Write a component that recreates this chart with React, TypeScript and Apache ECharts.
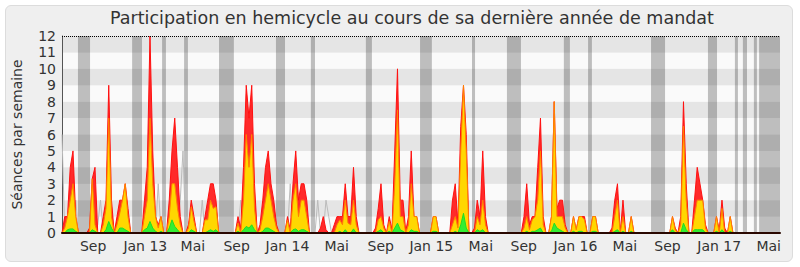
import React, { useEffect, useRef } from "react";
import * as echarts from "echarts";

const TITLE = "Participation en hemicycle au cours de sa dernière année de mandat";
const Y_NAME = "Séances par semaine";

// x axis: week index since the start of the legislature
const TICK_LABELS = ["Sep", "Jan 13", "Mai", "Sep", "Jan 14", "Mai", "Sep", "Jan 15", "Mai", "Sep", "Jan 16", "Mai", "Sep", "Jan 17", "Mai"];
const TICK_WEEKS = [11.3, 30.3, 47.6, 63.5, 82, 99.9, 115.9, 134.3, 152.3, 167.9, 186.7, 204.7, 220.2, 239, 257];
const WEEK_MAX = 261.1;

// parliamentary holidays (week ranges)
const VACATION_START = [5.8, 25.5, 36.4, 44.4, 57.1, 77.8, 90.5, 110.5, 130.2, 149.1, 161.8, 182.5, 191.3, 214.2, 234.9, 244.7, 247.6, 251.6, 253.5];
const VACATION_END = [10.2, 29.1, 37.8, 45.8, 62.5, 81.1, 92.0, 112.7, 134.5, 150.2, 166.9, 184.7, 192.7, 219.3, 238.2, 245.8, 249.1, 252.7, 261.1];

// weekly values
const PRESENCE = [
  0, 1, 1, 4, 5, 1, 0, 0, 0, 0,
  0.3, 3.3, 4, 0, 0, 1, 2, 9, 2, 0,
  1, 2, 2, 3, 1.5, 0, 0, 0, 0, 0,
  2, 4, 12, 5, 1, 0.5, 1, 0, 0, 2,
  5, 7, 4, 1, 0, 0, 0.5, 2, 1, 0,
  0, 0, 1, 2, 3, 3, 2, 0, 0, 0,
  0, 0, 0, 0, 1, 0.3, 4, 9, 7, 9,
  3, 0, 0.5, 2, 4, 5, 3, 2, 0.5, 0,
  0, 0, 1, 0.2, 3, 5, 2, 3, 3, 2,
  0, 0, 0, 0, 0.3, 1, 0.2, 0, 0, 0.5,
  1, 1, 1, 3, 1, 1, 4, 1, 0, 0,
  0, 0, 0, 0, 0.3, 1.5, 3, 0.5, 0, 1,
  0.2, 5, 10, 2, 2, 0.1, 1, 5, 1, 1,
  0, 0, 0, 0, 0, 1, 1, 0, 0, 0,
  0, 0, 2, 3, 0.5, 6.5, 9, 6, 0, 0,
  0.3, 2, 1, 5, 1, 0, 0, 0, 0, 0,
  0, 0, 0, 0, 0, 0, 0, 0, 1, 3,
  0.5, 1, 1, 4, 7, 1, 0, 0, 1, 8,
  1.5, 2, 2, 0.5, 0, 0, 1, 0.2, 1, 1,
  1, 0, 0, 1, 1, 0, 0, 0, 0, 0,
  0.3, 2, 3, 0, 2, 0, 0, 1, 0, 0,
  0, 0, 0, 0, 0, 0, 0, 0, 0, 0,
  0, 0, 1, 0.3, 0, 1, 8, 3, 0, 0,
  2, 4, 3, 2, 0.5, 0, 0, 0, 1, 0.2,
  2, 0.3, 0, 1, 0, 0, 0, 0, 0, 0,
  0, 0, 0, 0, 0, 0, 0, 0, 0, 0, 0, 0,
];

const PARTICIPATION = [
  0, 0.3, 1, 2, 3, 1, 0, 0, 0, 0,
  0, 3.3, 0.5, 0, 0, 0.5, 1.5, 7, 1, 0,
  0.5, 1.2, 2, 3, 1, 0, 0, 0, 0, 0,
  1, 2, 7, 3, 1, 0.3, 1, 0, 0, 1,
  3, 3, 1.5, 0.5, 0, 0, 0.3, 1.6, 0.7, 0,
  0, 0, 0.8, 0.8, 2, 1.5, 1.6, 0, 0, 0,
  0, 0, 0, 0, 0.6, 0, 2, 6, 4, 6,
  1.5, 0, 0.2, 1, 2, 3, 2, 1, 0.3, 0,
  0, 0, 0.8, 0, 2, 3, 1, 2, 2, 1,
  0, 0, 0, 0, 0, 0, 0, 0, 0, 0,
  0.5, 0.8, 0.5, 2, 0.6, 0.5, 2, 0.5, 0, 0,
  0, 0, 0, 0, 0, 0.8, 1, 0.3, 0, 0.7,
  0, 3, 7.5, 1, 1, 0, 0.5, 3, 1, 1,
  0, 0, 0, 0, 0, 1, 1, 0, 0, 0,
  0, 0, 0.5, 1, 0.3, 5, 9, 5, 0, 0,
  0, 1, 0.5, 2, 0.5, 0, 0, 0, 0, 0,
  0, 0, 0, 0, 0, 0, 0, 0, 0.3, 1,
  0.2, 0.8, 1, 2, 5, 0.5, 0, 0, 1, 8,
  1, 1, 1, 0.3, 0, 0, 1, 0.2, 1, 1,
  0.8, 0, 0, 1, 1, 0, 0, 0, 0, 0,
  0, 1, 2, 0, 1, 0, 0, 1, 0, 0,
  0, 0, 0, 0, 0, 0, 0, 0, 0, 0,
  0, 0, 1, 0.2, 0, 0.5, 6.5, 2, 0, 0,
  1, 2, 2, 2, 0.3, 0, 0, 0, 1, 0,
  1.5, 0, 0, 1, 0, 0, 0, 0, 0, 0,
  0, 0, 0, 0, 0, 0, 0, 0, 0, 0, 0, 0,
];

const INTERVENTIONS = [
  0, 0, 0.2, 0.25, 0.25, 0.1, 0, 0, 0, 0,
  0, 0.2, 0.1, 0, 0, 0, 0.2, 0.7, 0.3, 0,
  0, 0.3, 0.3, 0.2, 0.1, 0, 0, 0, 0, 0,
  0.2, 0.3, 0.7, 0.3, 0.1, 0, 0.1, 0, 0, 0.3,
  0.8, 0.4, 0.2, 0, 0, 0, 0, 0.2, 0.1, 0,
  0, 0, 0, 0.1, 0.2, 0.1, 0.2, 0, 0, 0,
  0, 0, 0, 0, 0.1, 0, 0.2, 0.4, 0.3, 0.5,
  0.2, 0, 0, 0.1, 0.3, 0.3, 0.2, 0.1, 0, 0,
  0, 0, 0, 0, 0.2, 0.25, 0.1, 0.2, 0.2, 0.1,
  0, 0, 0, 0, 0, 0, 0, 0, 0, 0,
  0, 0.1, 0, 0.2, 0, 0, 0.25, 0, 0, 0,
  0, 0, 0, 0, 0, 0.1, 0.2, 0, 0, 0.1,
  0, 0.3, 0.6, 0.2, 0.1, 0, 0, 0.2, 0.1, 0.1,
  0, 0, 0, 0, 0, 0.1, 0.1, 0, 0, 0,
  0, 0, 0, 0.1, 0, 0.5, 1.2, 0.3, 0, 0,
  0, 0.2, 0.1, 0.2, 0, 0, 0, 0, 0, 0,
  0, 0, 0, 0, 0, 0, 0, 0, 0, 0.1,
  0, 0.1, 0.1, 0.2, 0.3, 0, 0, 0, 0.1, 0.6,
  0.3, 0.2, 0.1, 0, 0, 0, 0.1, 0, 0.1, 0.1,
  0, 0, 0, 0.1, 0.1, 0, 0, 0, 0, 0,
  0, 0.1, 0.2, 0, 0.1, 0, 0, 0.1, 0, 0,
  0, 0, 0, 0, 0, 0, 0, 0, 0, 0,
  0, 0, 0.2, 0, 0, 0, 0.6, 0.2, 0, 0,
  0.2, 0.2, 0.2, 0.2, 0, 0, 0, 0, 0.1, 0,
  0.2, 0, 0, 0.1, 0, 0, 0, 0, 0, 0,
  0, 0, 0, 0, 0, 0, 0, 0, 0, 0, 0, 0,
];

const MEDIANE = [
  6, 0, 0, 0, 0, 2, 0, 0, 0, 0,
  0, 0, 0, 0.5, 2, 0, 0, 0, 0, 0,
  0, 0, 0, 0, 0, 0, 0, 0, 0, 0,
  0, 0, 0, 0, 0, 3, 0, 0, 0, 0,
  0, 0, 0, 2, 5, 0, 0, 0, 0, 0,
  0, 2, 0, 0, 0, 0, 0, 0, 0, 0,
  0, 0, 0, 0, 0, 2, 0, 0, 0, 0,
  0, 0, 0, 0, 0, 0, 0, 0, 0, 0,
  0, 0, 0, 3, 0, 0, 0, 0, 0, 0,
  0, 0, 0, 2, 0, 0, 2, 1, 0, 0,
  0, 0, 0, 0, 0, 0, 0, 0, 0, 0,
  0, 0, 0, 0, 0, 0, 0, 0, 0, 0,
  0, 0, 0, 0, 0, 0, 0, 0, 0, 0,
  0, 0, 0, 0, 0, 0, 0, 0, 0, 0,
  0, 0, 0, 0, 0, 0, 0, 0, 0, 0,
  0, 0, 0, 0, 0, 0, 0, 0, 0, 0,
  0, 0, 0, 0, 0, 0, 0, 0, 0, 0,
  0, 0, 0, 0, 0, 0, 0, 0, 0, 0,
  0, 0, 0, 0, 0, 0, 0, 0, 0, 0,
  0, 0, 0, 0, 0, 0, 0, 0, 0, 0,
  0, 0, 0, 0, 0, 0, 0, 0, 0, 0,
  0, 0, 0, 0, 0, 0, 0, 0, 0, 0,
  0, 0, 0, 0, 0, 0, 0, 0, 0, 0,
  0, 0, 0, 0, 0, 0, 0, 0, 0, 0,
  0, 0, 0, 0, 0, 0, 0, 0, 0, 0,
  0, 0, 0, 0, 0, 0, 0, 0, 0, 0, 0, 0,
];

const FONT = "DejaVu Sans";

export default function App() {
  const ref = useRef<HTMLDivElement>(null);

  useEffect(() => {
    document.body.style.margin = "0";
    if (!ref.current) return;
    const chart = echarts.init(ref.current, null, { renderer: "svg" });
    const pts = (arr: number[]) => arr.map((v, i) => [i, v]);

    chart.setOption({
      animation: false,
      backgroundColor: "transparent",
      title: {
        text: TITLE,
        left: 105,
        top: 4,
        textStyle: { fontFamily: FONT, fontSize: 17.5, fontWeight: "normal", color: "#333" },
      },
      grid: { left: 62, right: 20, top: 36, bottom: 34, containLabel: false, outerBoundsMode: "none" },
      xAxis: {
        type: "value",
        min: 0,
        max: WEEK_MAX,
        z: 10,
        axisLine: { show: true, onZero: false, lineStyle: { color: "#2a0800", width: 2 } },
        axisTick: { show: false },
        splitLine: { show: false },
        axisLabel: {
          customValues: TICK_WEEKS,
          formatter: (v: number) => {
            const i = TICK_WEEKS.findIndex((w) => Math.abs(w - v) < 1e-6);
            return i >= 0 ? TICK_LABELS[i] : "";
          },
          fontFamily: FONT,
          fontSize: 14,
          color: "#333",
          margin: 6,
          showMinLabel: true,
          showMaxLabel: true,
          hideOverlap: false,
        },
      },
      yAxis: {
        type: "value",
        min: 0,
        max: 12,
        interval: 1,
        name: Y_NAME,
        nameLocation: "middle",
        nameGap: 38,
        nameTextStyle: { fontFamily: FONT, fontSize: 14, color: "#333" },
        axisLine: { show: true, lineStyle: { color: "#555", width: 1 } },
        axisTick: { show: false },
        splitLine: { show: false },
        splitArea: { show: true, areaStyle: { color: ["#fafafa", "#e5e5e5"] } },
        axisLabel: { fontFamily: FONT, fontSize: 14, color: "#333", margin: 6 },
      },
      series: [
        {
          type: "line",
          name: "vacances",
          data: [],
          z: 1,
          silent: true,
          markArea: {
            silent: true,
            itemStyle: { color: "rgba(0,0,0,0.24)" },
            data: VACATION_START.map((s, i) => [{ xAxis: s }, { xAxis: VACATION_END[i] }]),
          },
          markLine: {
            silent: true,
            symbol: ["none", "none"],
            label: { show: false },
            lineStyle: { color: "#000", type: "dotted", width: 1 },
            data: [{ yAxis: 12 }],
          },
        },
        {
          type: "line",
          name: "Médiane",
          data: pts(MEDIANE),
          z: 2,
          symbol: "none",
          silent: true,
          lineStyle: { color: "#bbbbbb", width: 1 },
        },
        {
          type: "line",
          name: "Présence",
          data: pts(PRESENCE),
          z: 3,
          symbol: "none",
          silent: true,
          lineStyle: { color: "#ff1010", width: 1 },
          areaStyle: { color: "#ff2a2a", opacity: 1 },
        },
        {
          type: "line",
          name: "Participation",
          data: pts(PARTICIPATION),
          z: 4,
          symbol: "none",
          silent: true,
          lineStyle: { color: "#ff8000", width: 1 },
          areaStyle: { color: "#ffd700", opacity: 1 },
        },
        {
          type: "line",
          name: "Interventions",
          data: pts(INTERVENTIONS),
          z: 5,
          symbol: "none",
          silent: true,
          lineStyle: { color: "#22dd22", width: 1 },
          areaStyle: { color: "#33ee33", opacity: 1 },
        },
      ],
    });

    return () => chart.dispose();
  }, []);

  return (
    <div style={{ position: "relative", width: 800, height: 267, background: "#fff" }}>
      <div
        style={{
          position: "absolute",
          left: 5,
          top: 5,
          width: 786,
          height: 255,
          background: "#efefef",
          border: "1px solid #dcdcdc",
          borderRadius: 6,
        }}
      />
      <div ref={ref} style={{ position: "absolute", left: 0, top: 0, width: 800, height: 267 }} />
    </div>
  );
}
